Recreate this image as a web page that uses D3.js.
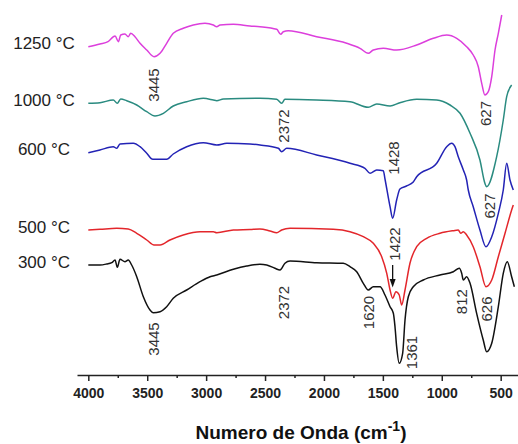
<!DOCTYPE html>
<html><head><meta charset="utf-8">
<script src="https://cdn.jsdelivr.net/npm/d3@7"></script>
<style>body{margin:0;background:#fff}svg{display:block;font-family:"Liberation Sans",Arial,Helvetica,sans-serif}</style>
</head><body><svg id="c" width="518" height="444"></svg>
<script>
// ---- data (wavenumber cm-1, transmittance a.u.) ----
const seriesNames = ["1250 °C", "1000 °C", "600 °C", "500 °C", "300 °C"];
const xTicks = [4000, 3500, 3000, 2500, 2000, 1500, 1000, 500];
const xMinorTicks = [3750, 3250, 2750, 2250, 1750, 1250, 750];

const spectrum1250 = [[4000,328.3],[3901,331],[3833,333.3],[3773,339],[3745,333.3],[3725,340],[3689,341],[3661,338.3],[3640,341.7],[3604,338.3],[3561,331.7],[3504,325],[3442,318.3],[3391,321.7],[3335,331.7],[3279,341.7],[3194,346.7],[3109,350],[3010,351.7],[2939,350],[2910,348.3],[2882,350],[2769,350.7],[2628,349],[2543,348.3],[2401,345.7],[2367,340.7],[2345,343.3],[2303,344.3],[2062,338.3],[1807,331.7],[1694,326.7],[1624,321.7],[1581,325],[1496,326.7],[1383,325],[1213,330],[1072,336.7],[958,340],[873,336.7],[789,328.3],[733,320],[690,308.3],[661,291.7],[634,280],[605,283.3],[576,298.3],[548,325],[520,341.7],[491,360]];

const spectrum1000 = [[4000,271.7],[3901,272.3],[3788,275],[3754,271.7],[3725,276],[3674,274.3],[3589,270],[3504,263.3],[3434,259],[3363,261.7],[3279,269],[3165,273.3],[3024,276.7],[2939,275],[2910,274.3],[2854,276],[2543,276.7],[2401,275.7],[2359,271.7],[2331,275.7],[2062,275],[1779,273.3],[1624,267.7],[1552,271],[1439,269],[1355,272.3],[1213,275.7],[1043,275],[930,270],[845,261.7],[760,241.7],[676,215],[634,191.7],[619,188.3],[534,218.3],[478,255],[449,278.3],[407,290]];

const spectrum600 = [[4000,222.3],[3901,225],[3788,228.3],[3759,226.7],[3731,231],[3618,231.7],[3561,228.3],[3504,221.7],[3453,215.7],[3335,215.7],[3279,221],[3165,228.3],[3024,232.3],[2910,230],[2825,231.7],[2628,231],[2543,230],[2387,226.7],[2359,223.3],[2316,226.7],[2062,220],[1779,211.7],[1652,206.7],[1609,201.7],[1552,205],[1496,204.3],[1482,196],[1439,168.3],[1417,156.7],[1383,175],[1355,186],[1300,189],[1242,193],[1213,198.3],[1043,211.7],[958,228.3],[916,231.7],[888,228.3],[860,218.3],[817,205],[789,195],[775,185],[733,168.3],[676,145],[625,128.3],[576,138.3],[520,161.7],[478,185],[449,211.7],[421,195],[393,185]];

const spectrum500 = [[4000,145],[3901,145.7],[3759,146.7],[3661,146],[3589,141.7],[3504,135],[3442,130],[3391,130],[3307,135],[3194,140],[3052,143.3],[2939,143.3],[2910,142.3],[2769,145],[2628,145.5],[2543,146],[2458,144],[2401,142.3],[2359,145],[2288,146.7],[1921,145.7],[1779,143.3],[1666,138.3],[1581,131.7],[1510,118.3],[1467,101.7],[1439,85],[1417,76.7],[1389,83.3],[1361,80],[1340,70],[1312,85],[1270,111.7],[1213,128.3],[1128,136.7],[1015,141.7],[902,144.3],[860,145],[839,141.7],[817,143.3],[789,140],[733,128.3],[676,108.3],[625,88.3],[576,95],[520,118.3],[463,141.7],[407,165],[393,170]];

const spectrum300 = [[4000,110],[3901,110],[3844,111],[3801,112.3],[3773,115],[3754,107.7],[3731,115.7],[3689,113.3],[3661,115],[3632,110],[3589,98.3],[3533,78.3],[3476,65],[3448,62.3],[3391,63.3],[3335,68.3],[3279,76.7],[3165,85],[3052,93.3],[2967,98.3],[2910,100],[2769,105.7],[2656,109],[2543,110.7],[2486,110],[2416,106.7],[2373,105],[2331,111.7],[2288,114],[2062,112.3],[1836,111.7],[1779,108.3],[1722,103.3],[1666,91.7],[1624,85],[1581,88.3],[1524,88.3],[1482,80],[1439,68.3],[1411,61.7],[1397,48.3],[1383,28.3],[1361,11.7],[1332,21.7],[1312,55],[1284,78.3],[1242,88.3],[1157,95],[1015,100],[902,103.3],[851,106.7],[831,101.7],[817,95],[789,98.3],[760,91.7],[704,61.7],[648,35],[619,23.3],[576,31.7],[520,68.3],[478,101.7],[444,113.3],[407,98.3],[384,88.3]];

const spectra = [spectrum1250, spectrum1000, spectrum600, spectrum500, spectrum300];

// peak annotations: label (cm-1) and vertical anchor (a.u.)
const peakLabels = ["3445","2372","627","1428","627","1422","3445","2372","1620","1361","812","626"];
const peakLevels = [290, 249, 261.5, 217, 169, 131, 36, 72.5, 62.5, 22.5, 73.3, 66];

// ---- styles / layout ----
const colors = ["#dc3fdc", "#2a8b80", "#2323b5", "#e3262b", "#111111"];
const labelDx = [0, 3, 0, 2, 3.5, 2.5, 0, 3, 0, 12, -2, 1];

const svg = d3.select("#c");
const x = d3.scaleLinear().domain([4096, 353]).range([77, 518]);
const y = d3.scaleLinear().domain([0, 375]).range([375, 0]);

const line = d3.line().x(d => x(d[0])).y(d => y(d[1])).curve(d3.curveMonotoneX);

svg.append("g").selectAll("path").data(spectra).join("path")
  .attr("d", line).attr("fill", "none")
  .attr("stroke", (d, i) => colors[i]).attr("stroke-width", 1.5)
  .attr("stroke-linejoin", "round");

// series labels
svg.append("g").selectAll("text").data(seriesNames).join("text")
  .attr("x", 44).attr("y", (d, i) => y(spectra[i][0][1]) + 2.5)
  .attr("text-anchor", "middle").attr("font-size", 17).attr("fill", "#222")
  .text(d => d);

// peak labels (rotated)
svg.append("g").selectAll("text").data(peakLabels).join("text")
  .attr("transform", (d, i) => `translate(${x(+d) + labelDx[i]},${y(peakLevels[i])}) rotate(-90)`)
  .attr("text-anchor", "middle").attr("dominant-baseline", "central")
  .attr("font-size", 15).attr("fill", "#333")
  .text(d => d);

// arrow for 1422
const ax = x(1422) + 0.6;
svg.append("line").attr("x1", ax).attr("x2", ax).attr("y1", y(110)).attr("y2", y(94))
  .attr("stroke", "#111").attr("stroke-width", 1.3);
svg.append("path")
  .attr("d", `M${ax - 3},${y(96)} L${ax + 3},${y(96)} L${ax},${y(87.5)} Z`)
  .attr("fill", "#111");

// x axis
const axisY = 375;
const gx = svg.append("g").attr("transform", `translate(0,${axisY})`)
  .call(d3.axisBottom(x).tickValues(xTicks).tickFormat(d3.format("d"))
    .tickSize(6).tickPadding(7).tickSizeOuter(0));
gx.select(".domain").attr("stroke", "#222").attr("stroke-width", 1.5);
gx.selectAll(".tick line").attr("stroke", "#222").attr("stroke-width", 1.5);
gx.selectAll(".tick text").attr("font-size", 14).attr("font-weight", "bold")
  .attr("fill", "#222").attr("font-family", '"Liberation Sans",Arial,sans-serif');

const gm = svg.append("g").attr("transform", `translate(0,${axisY})`)
  .call(d3.axisBottom(x).tickValues(xMinorTicks).tickSize(3).tickFormat(""));
gm.select(".domain").remove();
gm.selectAll(".tick line").attr("stroke", "#222").attr("stroke-width", 1.5);

// axis title
const title = svg.append("text").attr("x", 301).attr("y", 439)
  .attr("text-anchor", "middle").attr("font-size", 19).attr("font-weight", "bold").attr("fill", "#111");
title.append("tspan").text("Numero de Onda (cm");
title.append("tspan").attr("font-size", 14).attr("dy", -8).text("-1");
title.append("tspan").attr("dy", 8).text(")");
</script></body></html>
